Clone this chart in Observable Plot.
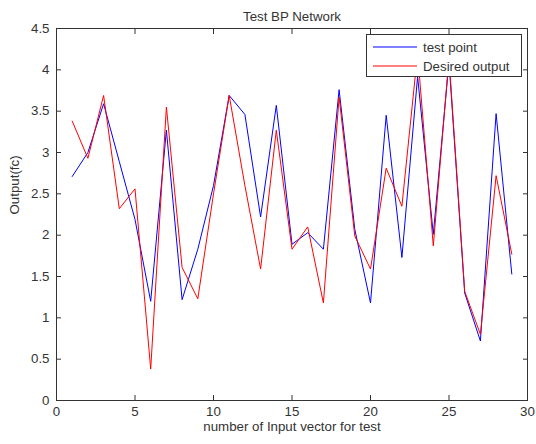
<!DOCTYPE html>
<html>
<head>
<meta charset="utf-8">
<script src="https://cdn.jsdelivr.net/npm/d3@7"></script>
<script src="https://cdn.jsdelivr.net/npm/@observablehq/plot@0.6"></script>
<style>
  html, body { margin: 0; padding: 0; background: #fff; }
  #wrap { position: relative; width: 536px; height: 444px; }
  #legend {
    position: absolute; left: 366px; top: 34px; width: 156px; height: 43px;
    background: #fff; border: 1px solid #333; box-sizing: border-box;
    font-family: "Liberation Sans", Arial, sans-serif; font-size: 13.3px; color: #333;
  }
  .row { position: absolute; left: 6px; height: 16px; display: flex; align-items: center; white-space: nowrap; }
  .row svg { margin-right: 6px; }
</style>
</head>
<body>
<div id="wrap"><div id="chart"></div>
  <div id="legend"></div>
</div>
<script>
const title = "Test BP Network";
const xLabel = "number of Input vector for test";
const yLabel = "Output(fc)";
const seriesNames = ["test point", "Desired output"];
const seriesColors = ["#0000ff", "#ff0000"];

const xs = [1,2,3,4,5,6,7,8,9,10,11,12,13,14,15,16,17,18,19,20,21,22,23,24,25,26,27,28,29];
const testPoint = [2.71,3.00,3.59,2.89,2.19,1.20,3.27,1.22,1.83,2.60,3.69,3.46,2.22,3.57,1.89,2.03,1.83,3.76,2.07,1.18,3.45,1.73,3.92,2.01,4.10,1.30,0.72,3.47,1.53];
const desired   = [3.38,2.93,3.69,2.32,2.56,0.38,3.55,1.61,1.23,2.50,3.69,2.60,1.59,3.27,1.83,2.10,1.18,3.67,1.99,1.59,2.81,2.35,4.20,1.87,4.15,1.32,0.80,2.72,1.77];

const xTicks = [0,5,10,15,20,25,30];
const yTicks = [0,0.5,1,1.5,2,2.5,3,3.5,4,4.5];

const idx = d3.range(xs.length);
const ink = "#333";
const fs = 13.3;

const chart = Plot.plot({
  width: 536, height: 444,
  marginLeft: 56, marginRight: 9, marginTop: 28, marginBottom: 44,
  x: {domain: [0, 30]},
  y: {domain: [0, 4.5]},
  style: {fontFamily: "'Liberation Sans', Arial, sans-serif", fontSize: fs + "px", color: ink, background: "#fff"},
  marks: [
    Plot.line(idx, {x: i => xs[i], y: i => testPoint[i], stroke: seriesColors[0], strokeWidth: 1}),
    Plot.line(idx, {x: i => xs[i], y: i => desired[i], stroke: seriesColors[1], strokeWidth: 1}),
    Plot.frame({stroke: ink}),
    Plot.axisX(xTicks, {anchor: "bottom", tickSize: -5, tickPadding: 11, label: null, stroke: ink, fontSize: fs}),
    Plot.axisX(xTicks, {anchor: "top", tickSize: -5, tickFormat: () => "", label: null, stroke: ink}),
    Plot.axisY(yTicks, {anchor: "left", tickSize: -5, tickPadding: 12, label: null, stroke: ink, fontSize: fs, tickFormat: d => String(d)}),
    Plot.axisY(yTicks, {anchor: "right", tickSize: -5, tickFormat: () => "", label: null, stroke: ink}),
    Plot.text([title], {frameAnchor: "top", dy: -17, fill: ink, fontSize: fs}),
    Plot.text([xLabel], {frameAnchor: "bottom", dy: 30, fill: ink, fontSize: fs}),
    Plot.text([yLabel], {frameAnchor: "left", dx: -42, rotate: -90, fill: ink, fontSize: fs})
  ]
});
document.getElementById("chart").appendChild(chart);

const legend = document.getElementById("legend");
seriesNames.forEach((name, k) => {
  const row = document.createElement("div");
  row.className = "row";
  row.style.top = (4 + k * 19) + "px";
  row.innerHTML = `<svg width="44" height="4"><line x1="0" x2="44" y1="2" y2="2" stroke="${seriesColors[k]}" stroke-width="1"/></svg><span>${name}</span>`;
  legend.appendChild(row);
});
</script>
</body>
</html>
